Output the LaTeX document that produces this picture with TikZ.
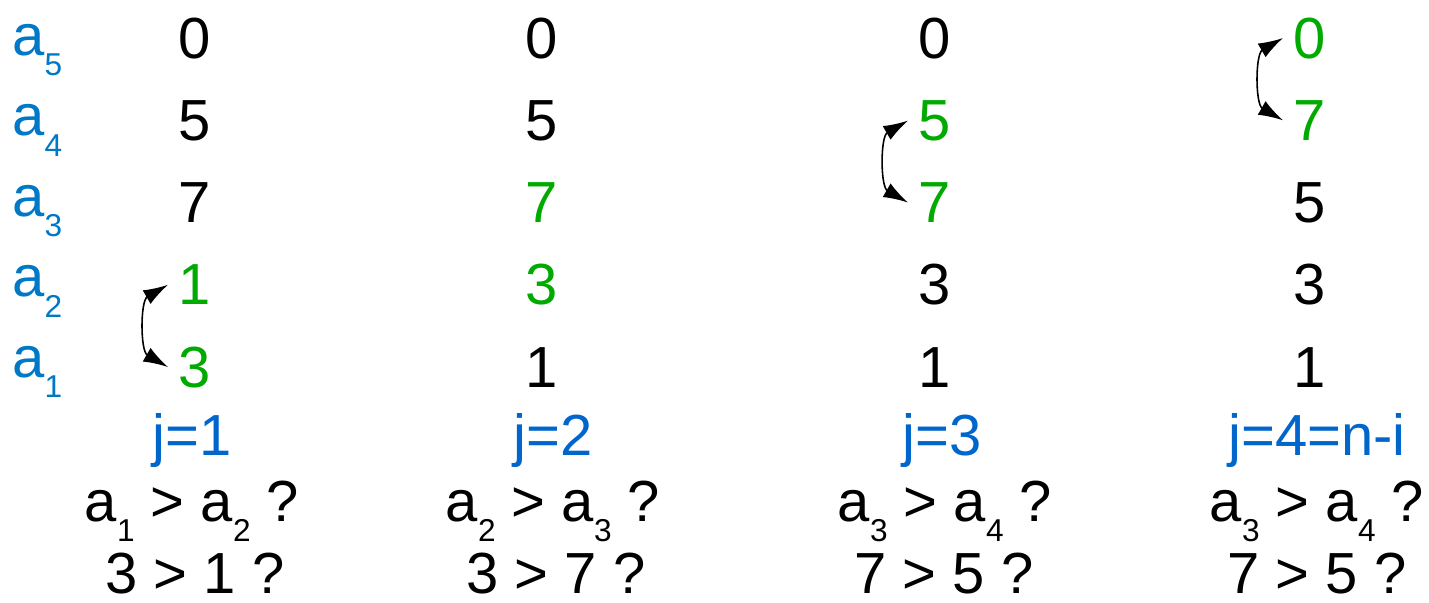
\documentclass[tikz,border=0pt]{standalone}
\usepackage{fontspec}
\setmainfont{Liberation Sans}
\usetikzlibrary{arrows.meta}
\definecolor{idxblue}{RGB}{0,120,200}
\definecolor{jblue}{RGB}{0,102,204}
\definecolor{swapgreen}{RGB}{0,170,0}
\newcommand{\idx}[1]{\raisebox{-0.36em}{\fontsize{18}{20}\selectfont #1}}

\begin{document}
\begin{tikzpicture}[x=0.02cm, y=-0.02cm,
    num/.style={font=\fontsize{33}{40}\selectfont, anchor=base, inner sep=6pt},
    idxlbl/.style={font=\fontsize{33}{40}\selectfont, text=idxblue, anchor=base west, inner sep=0pt},
    jlbl/.style={font=\fontsize{33}{40}\selectfont, text=jblue, anchor=base, inner sep=0pt},
    cmp/.style={font=\fontsize{33}{40}\selectfont, anchor=base, inner sep=0pt},
    swaparrow/.style={line width=0.9pt, bend right=60}]
  \useasboundingbox (0,0) rectangle (1429,602);

  % index labels
  \foreach \r in {1,...,5}
    \node[idxlbl] (a\r) at (12,{377-80.5*(\r-1)}) {a\idx{\r}};

  % array contents after each step j
  \foreach \c/\x/\vals in {1/195/{3/swapgreen,1/swapgreen,7/black,5/black,0/black},
                           2/542/{1/black,3/swapgreen,7/swapgreen,5/black,0/black},
                           3/935/{1/black,3/black,7/swapgreen,5/swapgreen,0/black},
                           4/1310/{1/black,3/black,5/black,7/swapgreen,0/swapgreen}}
    \foreach \v/\col [count=\r] in \vals
      \node[num, text=\col] (c\c r\r) at (\x,{387-82.25*(\r-1)}) {\v};

  % swaps
  \draw[swaparrow, {Latex[length=14pt,width=9pt]}-{Latex[length=14pt,width=9pt]}] (c1r2.west) to (c1r1.west);
  \draw[swaparrow, {Latex[length=14pt,width=9pt]}-{Latex[length=14pt,width=9pt]}] (c3r4.west) to (c3r3.west);
  \draw[swaparrow, {Latex[length=14pt,width=9pt]}-{Latex[length=14pt,width=9pt]}] (c4r5.west) to (c4r4.west);

  % step labels and comparisons
  \node[jlbl] (j1) at (192,455) {j=1};
  \node[jlbl] (j2) at (553,455) {j=2};
  \node[jlbl] (j3) at (942,455) {j=3};
  \node[jlbl] (j4) at (1317,455) {j=4=n-i};

  \node[cmp] (q1) at (192,521) {a\idx{1} > a\idx{2} ?};
  \node[cmp] (q2) at (553,521) {a\idx{2} > a\idx{3} ?};
  \node[cmp] (q3) at (945,521) {a\idx{3} > a\idx{4} ?};
  \node[cmp] (q4) at (1317,521) {a\idx{3} > a\idx{4} ?};

  \node[cmp] (v1) at (195,593) {3 > 1 ?};
  \node[cmp] (v2) at (556,593) {3 > 7 ?};
  \node[cmp] (v3) at (944,593) {7 > 5 ?};
  \node[cmp] (v4) at (1317,593) {7 > 5 ?};
\end{tikzpicture}
\end{document}
